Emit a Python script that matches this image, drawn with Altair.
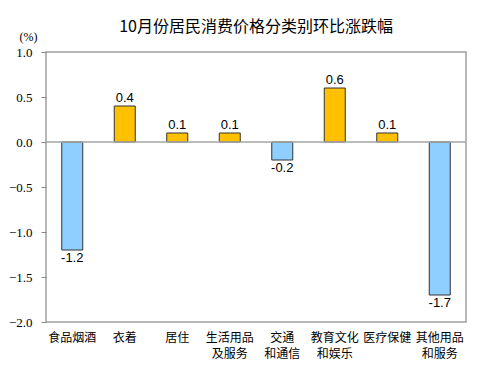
import altair as alt
import pandas as pd

categories = ["食品烟酒", "衣着", "居住", "生活用品\n及服务", "交通\n和通信", "教育文化\n和娱乐", "医疗保健", "其他用品\n和服务"]
values = [-1.2, 0.4, 0.1, 0.1, -0.2, 0.6, 0.1, -1.7]
y_ticks = [-2.0, -1.5, -1.0, -0.5, 0.0, 0.5, 1.0]

df = pd.DataFrame({"cat": categories, "val": values})
df["sign"] = ["pos" if v >= 0 else "neg" for v in values]
df["label"] = [f"{v:.1f}" for v in values]

x_enc = alt.X("cat:N", sort=categories, scale=alt.Scale(paddingInner=0.6, paddingOuter=0.3),
              axis=alt.Axis(title=None, labelAngle=0, labelExpr="split(datum.label, '\\n')",
                            labelFont="Noto Sans CJK SC", labelFontSize=12, labelColor="#000",
                            labelLineHeight=16, labelPadding=10, ticks=False, domain=False,
                            labelBaseline="top"))
y_scale = alt.Scale(domain=[-2.0, 1.0], nice=False, zero=False)

bars = alt.Chart(df).mark_bar(stroke="#333333", strokeWidth=1).encode(
    x=x_enc,
    y=alt.Y("val:Q", scale=y_scale,
            axis=alt.Axis(values=y_ticks, format=".1f", grid=False, domain=False,
                          tickSize=5, tickColor="#888", labelPadding=9,
                          labelFont="Liberation Serif", labelFontSize=13, labelColor="#000",
                          title="(%)", titleAngle=0, titleX=-18, titleY=-16,
                          titleAlign="center", titleBaseline="middle",
                          titleFont="Liberation Serif", titleFontSize=12, titleFontWeight="normal",
                          titleColor="#000")),
    y2=alt.datum(0),
    color=alt.Color("sign:N", scale=alt.Scale(domain=["pos", "neg"], range=["#FFC000", "#8ECFFF"]), legend=None),
)

pos_text = alt.Chart(df[df["sign"] == "pos"]).mark_text(
    baseline="bottom", dy=-1, font="Liberation Sans", fontSize=13, color="#000"
).encode(x=alt.X("cat:N", sort=categories), y=alt.Y("val:Q", scale=y_scale), text="label:N")

neg_text = alt.Chart(df[df["sign"] == "neg"]).mark_text(
    baseline="top", dy=2, font="Liberation Sans", fontSize=13, color="#000"
).encode(x=alt.X("cat:N", sort=categories), y=alt.Y("val:Q", scale=y_scale), text="label:N")

zero = alt.Chart(pd.DataFrame({"z": [0.0]})).mark_rule(color="#A6A6A6", strokeWidth=1.5).encode(
    y=alt.Y("z:Q", scale=y_scale)
)

chart = alt.layer(bars, zero, pos_text, neg_text).properties(
    width=420, height=270,
    title=alt.TitleParams("10月份居民消费价格分类别环比涨跌幅", font="Noto Sans CJK SC", fontSize=16,
                          fontWeight="normal", color="#000", anchor="middle", frame="group",
                          offset=-5),
    autosize=alt.AutoSizeParams(type="none"),
    padding={"left": 38, "top": 44, "right": 14, "bottom": 39},
).configure_view(stroke="#A0A0A0", strokeWidth=1.5)

chart.save("out.html", embed_options={"renderer": "svg", "actions": False})
